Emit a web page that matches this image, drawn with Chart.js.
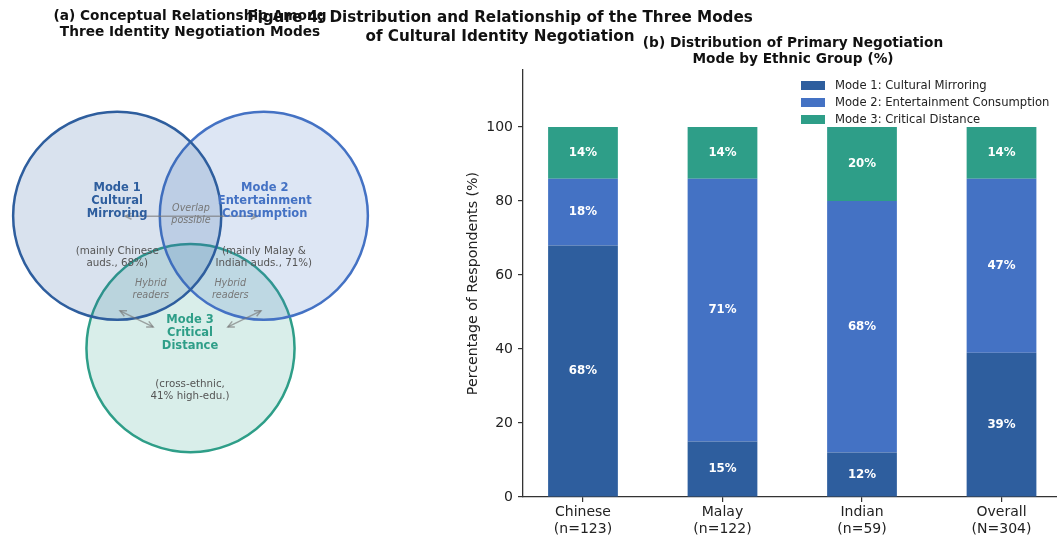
<!DOCTYPE html>
<html>
<head>
<meta charset="utf-8">
<script src="https://cdn.jsdelivr.net/npm/chart.js@4.4.0/dist/chart.umd.min.js"></script>
<style>
  body{margin:0;width:1057px;height:538px;overflow:hidden;background:#fff;position:relative;font-family:'DejaVu Sans',sans-serif;}
  #venn{position:absolute;left:0;top:0;}
  #bars{position:absolute;left:440px;top:0;}
  .ttl{position:absolute;font-weight:bold;text-align:center;white-space:nowrap;color:#111;transform:translateX(-50%);}
  #legend{position:absolute;left:801px;top:77px;font-size:11.6px;color:#222;}
  #legend div{height:17.2px;line-height:17.2px;white-space:nowrap;}
  #legend span{display:inline-block;width:24px;height:9px;margin-right:10px;vertical-align:-1px;}
</style>
</head>
<body>
<canvas id="venn" width="420" height="538"></canvas>
<canvas id="bars" width="640" height="538"></canvas>
<div class="ttl" style="left:190px;top:7px;font-size:13.7px;line-height:16px;">(a) Conceptual Relationship Among<br>Three Identity Negotiation Modes</div>
<div class="ttl" style="left:500px;top:7.5px;font-size:15.2px;line-height:19px;">Figure 4: Distribution and Relationship of the Three Modes<br>of Cultural Identity Negotiation</div>
<div class="ttl" style="left:793px;top:35px;font-size:13.7px;line-height:15.5px;">(b) Distribution of Primary Negotiation<br>Mode by Ethnic Group (%)</div>
<div id="legend"></div>
<script>
// ---- panel (b) data ----
const groups   = [['Chinese','(n=123)'], ['Malay','(n=122)'], ['Indian','(n=59)'], ['Overall','(N=304)']];
const modeNames = ['Mode 1: Cultural Mirroring', 'Mode 2: Entertainment Consumption', 'Mode 3: Critical Distance'];
const mode1 = [68, 15, 12, 39];
const mode2 = [18, 71, 68, 47];
const mode3 = [14, 14, 20, 14];
const yTicks = [0, 20, 40, 60, 80, 100];

// ---- panel (a) diagram ----
const circleX = [0.345, 0.655, 0.5];
const circleY = [0.62, 0.62, 0.34];
const circleR = 0.22;

const C1 = '#2E5E9E', C2 = '#4472C4', C3 = '#2E9E88';
const FONT = "'DejaVu Sans', sans-serif";

// text notes of the diagram (lines, centre in diagram units, style)
const vennNotes = [
  {lines:['Mode 1','Cultural','Mirroring'], x:0.345, y:0.651, color:C1, font:'bold 11.5px '+FONT, lh:12.6},
  {lines:['Mode 2','Entertainment','Consumption'], x:0.657, y:0.651, color:C2, font:'bold 11.5px '+FONT, lh:12.6},
  {lines:['Overlap','possible'], x:0.501, y:0.622, color:'#777', font:'italic 9.6px '+FONT, lh:12},
  {lines:['(mainly Chinese','auds., 68%)'], x:0.345, y:0.532, color:'#555', font:'10.3px '+FONT, lh:11.5},
  {lines:['(mainly Malay &','Indian auds., 71%)'], x:0.655, y:0.532, color:'#555', font:'10.3px '+FONT, lh:11.5},
  {lines:['Hybrid','readers'], x:0.416, y:0.465, color:'#777', font:'italic 9.6px '+FONT, lh:12},
  {lines:['Hybrid','readers'], x:0.584, y:0.465, color:'#777', font:'italic 9.6px '+FONT, lh:12},
  {lines:['Mode 3','Critical','Distance'], x:0.499, y:0.372, color:C3, font:'bold 11.5px '+FONT, lh:13.4},
  {lines:['(cross-ethnic,','41% high-edu.)'], x:0.499, y:0.251, color:'#555', font:'10.3px '+FONT, lh:11.5}
];
const vennArrows = [
  [0.362, 0.619, 0.641, 0.619],
  [0.351, 0.419, 0.421, 0.385],
  [0.649, 0.419, 0.579, 0.385]
];

function arrowHead(ctx, x, y, ang) {
  const L = 7, w = 0.45;
  ctx.beginPath();
  ctx.moveTo(x - L*Math.cos(ang - w), y - L*Math.sin(ang - w));
  ctx.lineTo(x, y);
  ctx.lineTo(x - L*Math.cos(ang + w), y - L*Math.sin(ang + w));
  ctx.stroke();
}

const vennText = {
  id: 'vennText',
  afterDatasetsDraw(chart) {
    const {ctx, scales: {x, y}} = chart;
    ctx.save();
    ctx.strokeStyle = 'rgba(120,120,120,0.65)';
    ctx.lineWidth = 1.5;
    vennArrows.forEach(a => {
      const x1 = x.getPixelForValue(a[0]), y1 = y.getPixelForValue(a[1]);
      const x2 = x.getPixelForValue(a[2]), y2 = y.getPixelForValue(a[3]);
      ctx.beginPath(); ctx.moveTo(x1, y1); ctx.lineTo(x2, y2); ctx.stroke();
      const ang = Math.atan2(y2 - y1, x2 - x1);
      arrowHead(ctx, x2, y2, ang);
      arrowHead(ctx, x1, y1, ang + Math.PI);
    });
    ctx.textAlign = 'center';
    ctx.textBaseline = 'middle';
    vennNotes.forEach(n => {
      ctx.font = n.font;
      ctx.fillStyle = n.color;
      const cx = x.getPixelForValue(n.x), cy = y.getPixelForValue(n.y);
      const top = cy - (n.lines.length - 1) * n.lh / 2;
      n.lines.forEach((t, i) => ctx.fillText(t, cx, top + i * n.lh));
    });
    ctx.restore();
  }
};

const S = 473; // px per diagram unit (equal aspect)
const fills = ['rgba(46,94,158,0.18)', 'rgba(68,114,196,0.18)', 'rgba(46,158,136,0.18)'];
// circle radius in pixels, taken from the x scale
const radiusPx = c => {
  const sx = c.chart.scales.x;
  const r = sx.getPixelForValue(circleR) - sx.getPixelForValue(0);
  return isFinite(r) ? r : circleR * S;
};

new Chart(document.getElementById('venn'), {
  type: 'scatter',
  data: {
    datasets: [C1, C2, C3].map((col, k) => ({
      data: [{x: circleX[k], y: circleY[k]}],
      pointBackgroundColor: fills[k],
      pointBorderColor: col,
      pointBorderWidth: 2.5,
      pointRadius: radiusPx,
      pointHoverRadius: radiusPx
    }))
  },
  options: {
    responsive: false, animation: false, events: [],
    layout: {padding: 0, autoPadding: false},
    plugins: {legend: {display: false}, tooltip: {enabled: false}},
    scales: {
      x: {type: 'linear', display: false, min: 46 / S, max: 466 / S},
      y: {type: 'linear', display: false, min: -29 / S, max: 509 / S}
    }
  },
  plugins: [vennText]
});

// ---- panel (b) ----
const barLabels = {
  id: 'barLabels',
  afterDatasetsDraw(chart) {
    const {ctx} = chart;
    ctx.save();
    ctx.font = 'bold 11.8px ' + FONT;
    ctx.fillStyle = '#fff';
    ctx.textAlign = 'center';
    ctx.textBaseline = 'middle';
    chart.data.datasets.forEach((ds, k) => {
      chart.getDatasetMeta(k).data.forEach((el, i) => {
        ctx.fillText(ds.data[i].y + '%', el.x, (el.y + el.base) / 2);
      });
    });
    ctx.restore();
  }
};

const modeValues = [mode1, mode2, mode3];
const barChart = new Chart(document.getElementById('bars'), {
  type: 'bar',
  data: {
    datasets: modeNames.map((name, k) => ({
      label: name,
      data: modeValues[k].map((v, i) => ({x: i, y: v})),
      backgroundColor: [C1, C2, C3][k],
      borderWidth: 0,
      categoryPercentage: 1,
      barPercentage: 0.5
    }))
  },
  options: {
    responsive: false, animation: false, events: [],
    layout: {padding: {top: 70, right: 18.5, left: 0, bottom: 0}},
    plugins: {legend: {display: false}, tooltip: {enabled: false}},
    scales: {
      x: {
        type: 'linear', stacked: true, offset: false, min: -0.43, max: 3.43,
        afterBuildTicks: s => { s.ticks = groups.map((g, i) => ({value: i})); },
        afterFit: s => { s.height = 41; },
        ticks: {callback: v => groups[v], color: '#222', font: {family: FONT, size: 14}, padding: 2, maxRotation: 0, autoSkip: false},
        grid: {display: true, offset: false, drawOnChartArea: false, drawTicks: true, tickLength: 5, color: '#333', lineWidth: 1.2},
        border: {display: true, color: '#333', width: 1.3}
      },
      y: {
        stacked: true, min: 0, max: 115.4,
        afterBuildTicks: s => { s.ticks = yTicks.map(v => ({value: v})); },
        afterFit: s => { s.width = 83; },
        ticks: {color: '#222', font: {family: FONT, size: 14}, padding: 5},
        grid: {display: true, drawOnChartArea: false, drawTicks: true, tickLength: 5, color: '#333', lineWidth: 1.2},
        border: {display: true, color: '#333', width: 1.3},
        title: {display: true, text: 'Percentage of Respondents (%)', color: '#222', font: {family: FONT, size: 14.2}, padding: {top: 24.5, bottom: 0}}
      }
    }
  },
  plugins: [barLabels]
});

// legend built from the datasets
document.getElementById('legend').innerHTML = barChart.data.datasets
  .map(ds => `<div><span style="background:${ds.backgroundColor}"></span>${ds.label}</div>`).join('');
</script>
</body>
</html>
